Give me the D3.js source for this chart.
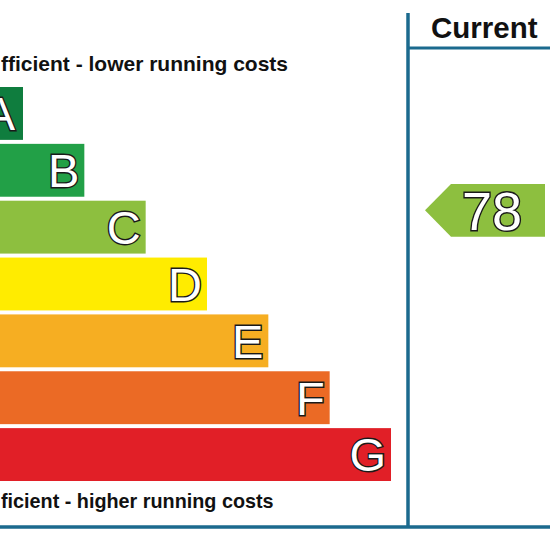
<!DOCTYPE html>
<html>
<head>
<meta charset="utf-8">
<script src="https://cdn.jsdelivr.net/npm/d3@7"></script>
<style>
  body { margin: 0; background: #fff; }
  svg { display: block; }
</style>
</head>
<body>
<svg id="chart" width="550" height="550"></svg>
<script>
// energy rating bands
const bands = ["A", "B", "C", "D", "E", "F", "G"];
const bandMin = [92, 81, 69, 55, 39, 21, 1];
const bandMax = [100, 91, 80, 68, 54, 38, 20];
const bandColors = ["#0f7d3e", "#22a047", "#8dbf3f", "#ffec00", "#f6ae22", "#eb6a25", "#e11f27"];
const topLabel = "fficient - lower running costs";
const bottomLabel = "ficient - higher running costs";
const columnTitle = "Current";
const currentScore = 78;

const svg = d3.select("#chart");
const lineColor = "#1b6a8e";
const font = "'Liberation Sans', Arial, sans-serif";

// scales
const y = d3.scaleBand()
  .domain(bands)
  .range([87, 481])
  .paddingInner(0.07)
  .paddingOuter(0);

const barEnd = d3.scaleLinear()
  .domain([0, bands.length - 1])
  .range([23, 391]);

// bars
const bars = svg.append("g").selectAll("g")
  .data(bands)
  .join("g");

bars.append("rect")
  .attr("x", -10)
  .attr("y", d => y(d))
  .attr("width", (d, i) => barEnd(i) + 10)
  .attr("height", y.bandwidth())
  .attr("fill", (d, i) => bandColors[i]);

bars.append("text")
  .attr("x", (d, i) => barEnd(i) - (i === 0 ? 8 : 5))
  .attr("y", d => y(d) + y.bandwidth() / 2)
  .attr("dy", "0.36em")
  .attr("text-anchor", "end")
  .attr("font-family", font)
  .attr("font-size", 47)
  .attr("fill", "#fff")
  .attr("stroke", "#1a1a1a")
  .attr("stroke-width", 2.8)
  .attr("paint-order", "stroke")
  .text(d => d);

// top / bottom captions
svg.append("text")
  .attr("x", 1)
  .attr("y", 71)
  .attr("font-family", font)
  .attr("font-weight", "bold")
  .attr("font-size", 21)
  .attr("fill", "#111")
  .text(topLabel);

svg.append("text")
  .attr("x", 1)
  .attr("y", 508)
  .attr("font-family", font)
  .attr("font-weight", "bold")
  .attr("font-size", 19.8)
  .attr("fill", "#111")
  .text(bottomLabel);

// frame lines
svg.append("line")
  .attr("x1", 408).attr("x2", 408)
  .attr("y1", 13).attr("y2", 528)
  .attr("stroke", lineColor).attr("stroke-width", 3.5);

svg.append("line")
  .attr("x1", 0).attr("x2", 550)
  .attr("y1", 527).attr("y2", 527)
  .attr("stroke", lineColor).attr("stroke-width", 3.5);

svg.append("line")
  .attr("x1", 408).attr("x2", 550)
  .attr("y1", 48).attr("y2", 48)
  .attr("stroke", lineColor).attr("stroke-width", 3);

svg.append("text")
  .attr("x", 431)
  .attr("y", 38)
  .attr("font-family", font)
  .attr("font-weight", "bold")
  .attr("font-size", 29.5)
  .attr("fill", "#111")
  .text(columnTitle);

// current rating arrow, placed within its band
const idx = bands.findIndex((b, i) => currentScore >= bandMin[i] && currentScore <= bandMax[i]);
const scoreY = d3.scaleLinear()
  .domain([bandMax[idx], bandMin[idx]])
  .range([y(bands[idx]), y(bands[idx]) + y.bandwidth()]);
const cy = scoreY(currentScore);
const h = y.bandwidth();
const tipX = 425, bodyX = 451, endX = 545;

svg.append("path")
  .attr("d", d3.line()([
    [tipX, cy],
    [bodyX, cy - h / 2],
    [endX, cy - h / 2],
    [endX, cy + h / 2],
    [bodyX, cy + h / 2]
  ]) + "Z")
  .attr("fill", bandColors[idx]);

svg.append("text")
  .attr("x", 492)
  .attr("y", cy)
  .attr("dy", "0.36em")
  .attr("text-anchor", "middle")
  .attr("font-family", font)
  .attr("font-size", 54)
  .attr("fill", "#fff")
  .attr("stroke", "#1a1a1a")
  .attr("stroke-width", 2.8)
  .attr("paint-order", "stroke")
  .text(currentScore);
</script>
</body>
</html>
